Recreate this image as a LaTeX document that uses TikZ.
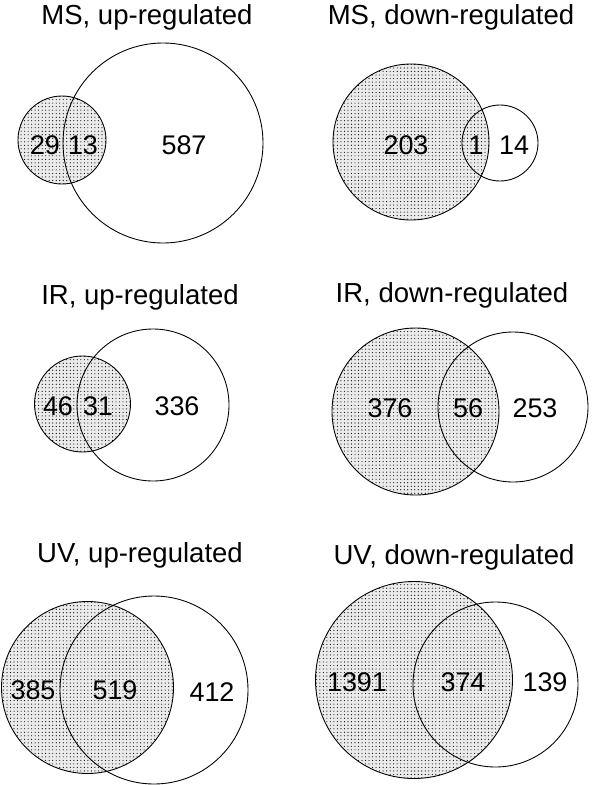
\documentclass[tikz,border=0pt]{standalone}
\usepackage{fontspec}
\setmainfont{Liberation Sans}
\usetikzlibrary{patterns}

\tikzset{
  shaded/.style={pattern=dots, pattern color=black},
  rim/.style={line width=0.75pt},
  title/.style={font=\fontsize{23.5}{28}\selectfont},
  count/.style={font=\fontsize{23}{27}\selectfont},
}

\begin{document}
\begin{tikzpicture}[x=0.03cm,y=-0.03cm]
    \useasboundingbox (0,0) rectangle (600,785);
    % MS, up-regulated
    \coordinate (A1) at (62,140);
    \coordinate (B1) at (163,143);
    \fill[black!8] (A1) circle (44);
    \fill[shaded] (A1) circle (44);
    \draw[rim] (A1) circle (44);
    \draw[rim] (B1) circle (100);
    \node[title] (t1) at (147,17) {MS, up-regulated};
    \node[count] (a1) at (45,145) {29};
    \node[count] (ab1) at (83,145) {13};
    \node[count] (b1) at (184,145) {587};
    % MS, down-regulated
    \coordinate (A2) at (411,142);
    \coordinate (B2) at (500,143);
    \fill[black!8] (A2) circle (78);
    \fill[shaded] (A2) circle (78);
    \draw[rim] (A2) circle (78);
    \draw[rim] (B2) circle (38);
    \node[title] (t2) at (451,17) {MS, down-regulated};
    \node[count] (a2) at (406,145) {203};
    \node[count] (ab2) at (476,145) {1};
    \node[count] (b2) at (514,145) {14};
    % IR, up-regulated
    \coordinate (A3) at (82.5,404);
    \coordinate (B3) at (153,405);
    \fill[black!8] (A3) circle (48);
    \fill[shaded] (A3) circle (48);
    \draw[rim] (A3) circle (48);
    \draw[rim] (B3) circle (76);
    \node[title] (t3) at (140,297) {IR, up-regulated};
    \node[count] (a3) at (58,406) {46};
    \node[count] (ab3) at (98,406) {31};
    \node[count] (b3) at (177,406) {336};
    % IR, down-regulated
    \coordinate (A4) at (415.5,411.5);
    \coordinate (B4) at (513,407);
    \fill[black!8] (A4) circle (83.5);
    \fill[shaded] (A4) circle (83.5);
    \draw[rim] (A4) circle (83.5);
    \draw[rim] (B4) circle (75);
    \node[title] (t4) at (452,295) {IR, down-regulated};
    \node[count] (a4) at (390,408) {376};
    \node[count] (ab4) at (468,408) {56};
    \node[count] (b4) at (535,408) {253};
    % UV, up-regulated
    \coordinate (A5) at (87.5,687.5);
    \coordinate (B5) at (154,690);
    \fill[black!8] (A5) circle (86);
    \fill[shaded] (A5) circle (86);
    \draw[rim] (A5) circle (86);
    \draw[rim] (B5) circle (94);
    \node[title] (t5) at (140,555) {UV, up-regulated};
    \node[count] (a5) at (33,690) {385};
    \node[count] (ab5) at (115,690) {519};
    \node[count] (b5) at (212,692) {412};
    % UV, down-regulated
    \coordinate (A6) at (414,680);
    \coordinate (B6) at (495.5,684.5);
    \fill[black!8] (A6) circle (98.5);
    \fill[shaded] (A6) circle (98.5);
    \draw[rim] (A6) circle (98.5);
    \draw[rim] (B6) circle (82.5);
    \node[title] (t6) at (454,557) {UV, down-regulated};
    \node[count] (a6) at (357,682) {1391};
    \node[count] (ab6) at (463,682) {374};
    \node[count] (b6) at (545,682) {139};
\end{tikzpicture}
\end{document}
